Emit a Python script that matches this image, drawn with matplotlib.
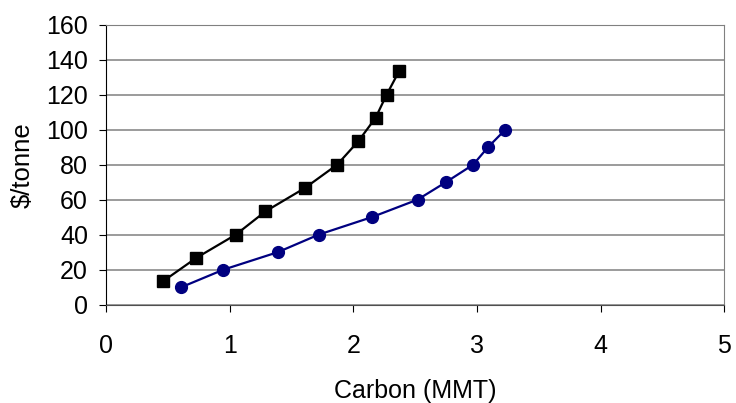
import matplotlib.pyplot as plt

plt.rcParams['font.family'] = ['Liberation Sans', 'DejaVu Sans']

# black series (squares)
carbon_a = [0.46, 0.73, 1.05, 1.29, 1.61, 1.87, 2.04, 2.18, 2.27, 2.37]
price_a = [13.3, 26.7, 40.0, 53.3, 66.7, 80.0, 93.3, 106.7, 120.0, 133.3]

# blue series (circles)
carbon_b = [0.61, 0.95, 1.39, 1.72, 2.15, 2.52, 2.75, 2.97, 3.09, 3.23]
price_b = [10, 20, 30, 40, 50, 60, 70, 80, 90, 100]

fig = plt.figure(figsize=(7.36, 4.03), dpi=100)
ax = fig.add_axes([0.144, 0.244, 0.84, 0.695])

ax.plot(carbon_a, price_a, color='black', lw=1.6, marker='s', markersize=8.5, zorder=3)
ax.plot(carbon_b, price_b, color='#000080', lw=1.6, marker='o', markersize=8.5, zorder=3)

ax.set_xlim(0, 5)
ax.set_ylim(0, 160)
ax.set_xticks(range(0, 6))
ax.set_yticks(range(0, 161, 20))
ax.yaxis.grid(True, color='#808080', lw=1.1)
ax.set_axisbelow(True)

for side in ['top', 'right']:
    ax.spines[side].set_color('#808080')
ax.spines['left'].set_color('black')
ax.spines['bottom'].set_color('#505050')
ax.tick_params(axis='both', labelsize=18, length=5, direction='out')
ax.tick_params(axis='y', pad=8)
ax.tick_params(axis='x', pad=16)

ax.set_xlabel('Carbon (MMT)', fontsize=18, labelpad=15)
ax.set_ylabel('$/tonne', fontsize=18.5, labelpad=8)

fig.savefig('out.png', dpi=100)
